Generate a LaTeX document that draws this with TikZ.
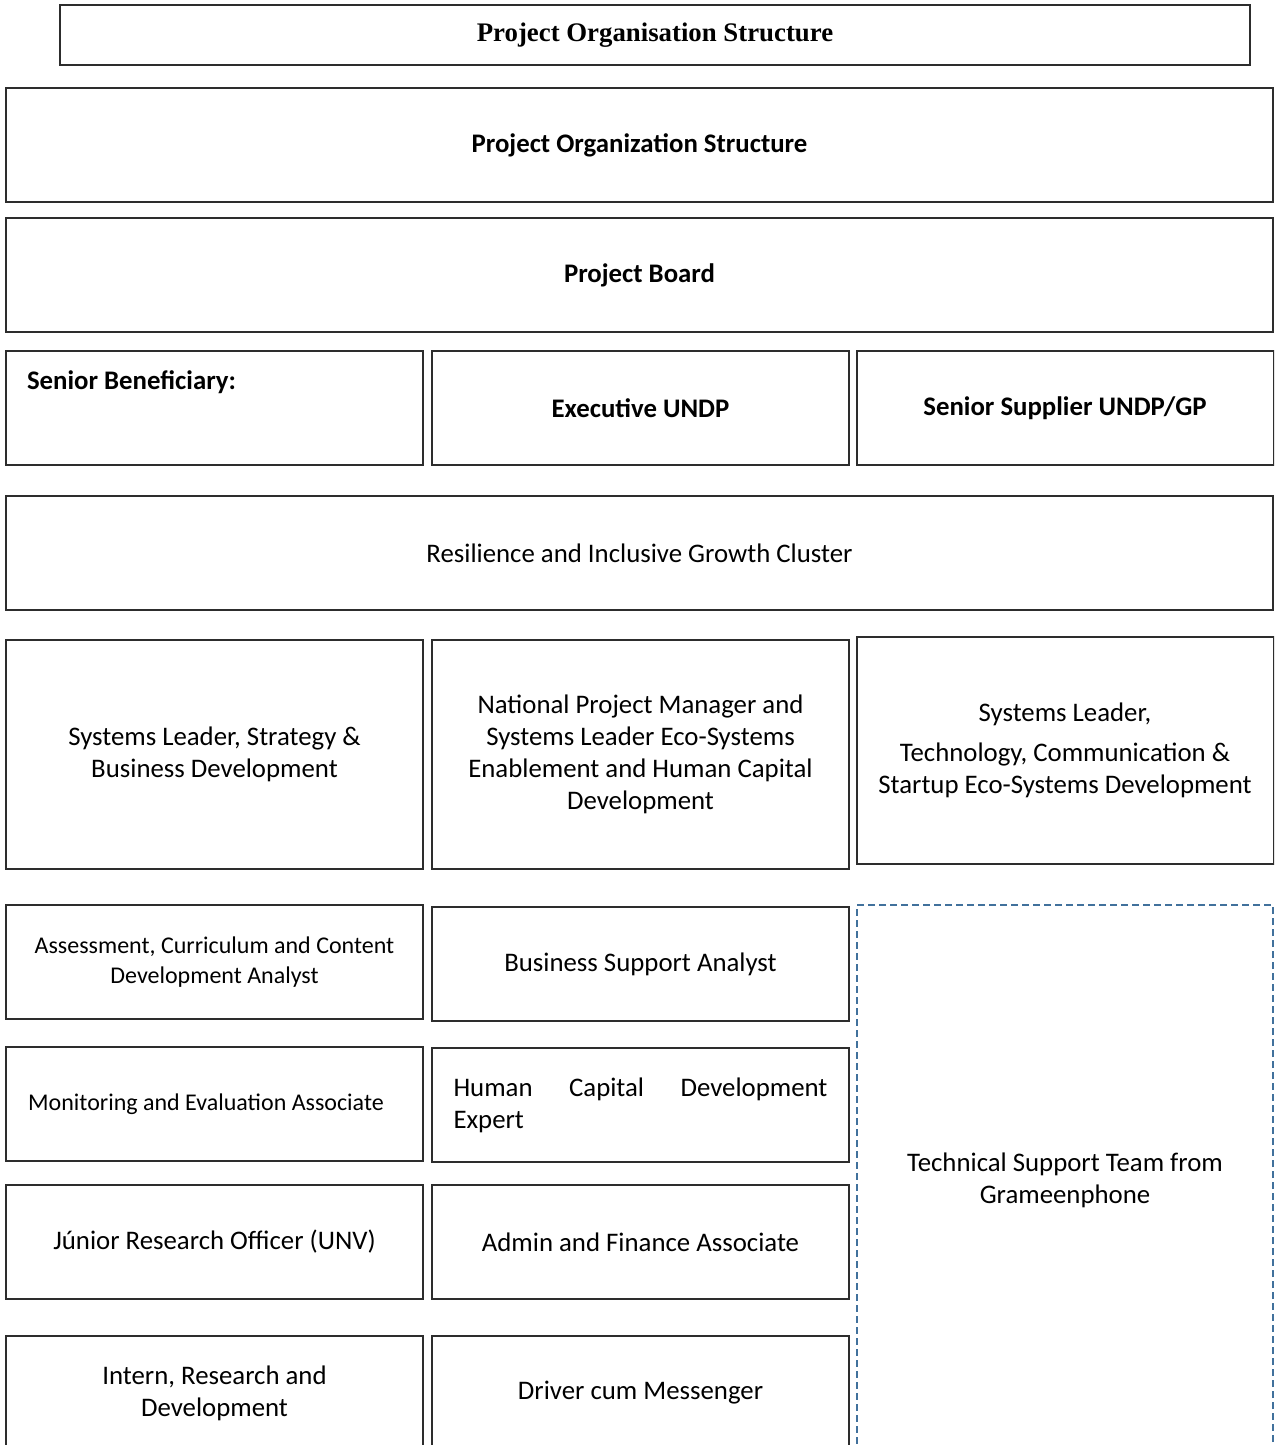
\documentclass[tikz,border=0pt]{standalone}
\usepackage{fontspec}
\setmainfont{Carlito}
\newfontfamily\timesfont{Liberation Serif}
\usepackage{tikz}

\definecolor{dashblue}{RGB}{65,113,156}
\definecolor{boxgrey}{RGB}{45,45,45}

\tikzset{
  orgbox/.style={draw=boxgrey, line width=1pt, rectangle, align=center, inner sep=3pt,
    font=\fontsize{13.4}{16}\selectfont},
  colbox/.style={orgbox, minimum width=208.5pt, minimum height=57pt},
  widebox/.style={orgbox, minimum width=633.5pt, minimum height=57pt},
  smalltext/.style={font=\fontsize{12}{15}\selectfont},
  boldtext/.style={font=\fontsize{13.4}{16}\selectfont\bfseries}
}

\begin{document}
\begin{tikzpicture}[x=0.5pt,y=0.5pt,yscale=-1]
\useasboundingbox (0,0) rectangle (1274,1445);
\clip (0,0) rectangle (1274,1445);

% header boxes
\node[orgbox, minimum width=595pt, minimum height=30pt, font=\timesfont\fontsize{13.4}{15}\selectfont\bfseries] (title) at (655,35) {Project Organisation Structure};
\node[widebox, boldtext] (orgstruct) at (639.5,145) {Project Organization Structure};
\node[widebox, boldtext] (board) at (639.5,275) {Project Board};

% board members
\node[colbox, boldtext, label={[anchor=north west, xshift=7.5pt, yshift=-7pt, boldtext]north west:{Senior Beneficiary:}}] (beneficiary) at (214.5,408) {};
\node[colbox, boldtext] (executive) at (640.5,408) {Executive UNDP};
\node[colbox, boldtext] (supplier) at (1065,408) {Senior Supplier UNDP/GP};

\node[widebox] (cluster) at (639.5,553) {Resilience and Inclusive Growth Cluster};

% systems leaders
\node[colbox, minimum height=114.5pt] (strategy) at (214.5,754.5) {Systems Leader, Strategy \&\\Business Development};
\node[colbox, minimum height=114.5pt] (npm) at (640.5,754.5) {National Project Manager and\\Systems Leader Eco-Systems\\Enablement and Human Capital\\Development};
\node[colbox, minimum height=113.5pt] (techlead) at (1065,750.5) {Systems Leader,\\[4pt]Technology, Communication \&\\Startup Eco-Systems Development};

% project team
\node[colbox, smalltext] (assess) at (214.5,962) {Assessment, Curriculum and Content\\Development Analyst};
\node[colbox] (bizsupport) at (640.5,964) {Business Support Analyst};
\node[colbox, smalltext] (monitor) at (214.5,1104) {Monitoring and Evaluation Associate\hspace*{8.5pt}};
\node[colbox, align=left, text width=187pt] (hcd) at (640.5,1105) {Human\hfill Capital\hfill Development\\Expert\\[10pt]};
\node[colbox] (junior) at (214.5,1242) {Júnior Research Officer (UNV)};
\node[colbox] (admin) at (640.5,1242) {Admin and Finance Associate};
\node[colbox] (intern) at (214.5,1393) {Intern, Research and\\Development};
\node[colbox] (driver) at (640.5,1393) {Driver cum Messenger};

% support from partner
\node[orgbox, draw=dashblue, dash pattern=on 3.5pt off 2pt, minimum width=208pt, minimum height=275pt] (techteam) at (1065,1180) {Technical Support Team from\\Grameenphone};
\end{tikzpicture}
\end{document}
